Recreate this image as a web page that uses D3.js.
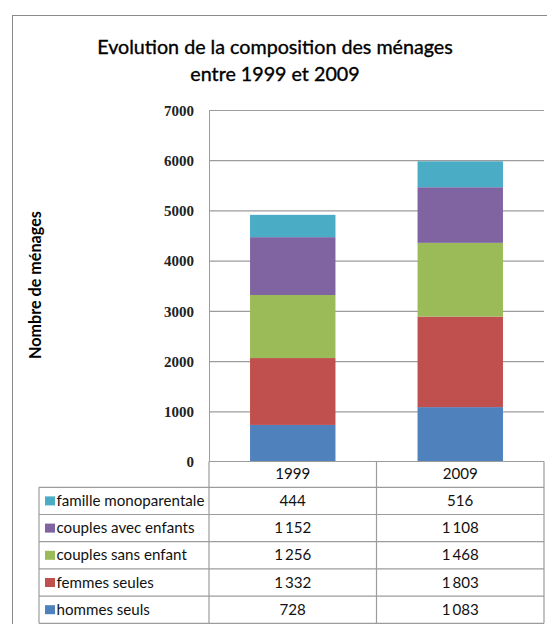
<!DOCTYPE html>
<html><head><meta charset="utf-8">
<script src="https://cdn.jsdelivr.net/npm/d3@7"></script>
<style>body{margin:0;background:#fff;overflow:hidden}</style>
</head><body><svg id="c" width="547" height="624"></svg>
<script>
// ---- data ----
const categories = ["1999", "2009"];
const seriesNames = ["hommes seuls", "femmes seules", "couples sans enfant", "couples avec enfants", "famille monoparentale"];
const hommesSeuls = [728, 1083];
const femmesSeules = [1332, 1803];
const couplesSansEnfant = [1256, 1468];
const couplesAvecEnfants = [1152, 1108];
const familleMonoparentale = [444, 516];
const seriesColors = ["#4F81BD", "#C0504D", "#9BBB59", "#8064A2", "#4BACC6"];
const yTicks = [0, 1000, 2000, 3000, 4000, 5000, 6000, 7000];
const titleLines = ["Evolution de la composition des ménages", "entre 1999 et 2009"];
const yTitle = "Nombre de ménages";

const seriesValues = [hommesSeuls, femmesSeules, couplesSansEnfant, couplesAvecEnfants, familleMonoparentale];
const rows = categories.map((c, i) => {
  const r = {cat: c};
  seriesNames.forEach((s, k) => r[s] = seriesValues[k][i]);
  return r;
});
const stacked = d3.stack().keys(seriesNames)(rows);
const color = d3.scaleOrdinal().domain(seriesNames).range(seriesColors);
const frFmt = d3.formatLocale({decimal: ",", thousands: "\u2009", grouping: [3], currency: ["", " €"]}).format(",d");

// ---- layout ----
const svg = d3.select("#c");
const plotL = 209, plotR = 544, plotT = 110, plotB = 461.5;
const tableL = 39, rowH = 27.2, headerB = 487.3;
const sans = "Lato, 'Open Sans', sans-serif";
const grid = "#9c9c9c";

function fit(sel, target) {
  const base = parseFloat(sel.attr("font-size"));
  const w = sel.node().getComputedTextLength();
  sel.attr("font-size", (base * target / w).toFixed(2));
  return base * target / w;
}

// outer frame
svg.append("rect").attr("x", 12.5).attr("y", 15.5).attr("width", 600).attr("height", 700)
  .attr("fill", "#fff").attr("stroke", "#8a8a8a").attr("stroke-width", 1);

// title
const t1 = svg.append("text").attr("x", 275).attr("y", 53.5).attr("text-anchor", "middle")
  .attr("font-family", sans).attr("font-size", 22).attr("fill", "#000").attr("stroke", "#000").attr("stroke-width", 0.35)
  .text(titleLines[0]);
fit(t1, 356);
const fs = t1.attr("font-size");
svg.append("text").attr("x", 275).attr("y", 80.5).attr("text-anchor", "middle")
  .attr("font-family", sans).attr("font-size", fs).attr("fill", "#000").attr("stroke", "#000").attr("stroke-width", 0.35)
  .text(titleLines[1]);

// scales
const y = d3.scaleLinear().domain([0, 7000]).range([plotB, plotT]);
const x = d3.scaleBand().domain(categories).range([plotL, plotR]).paddingInner(0.49).paddingOuter(0.245);
const xc = d3.scaleBand().domain(categories).range([plotL, plotR]).padding(0);

// gridlines
const g = svg.append("g").attr("transform", `translate(${plotL},0)`)
  .call(d3.axisLeft(y).tickValues(yTicks.filter(v => v > 0)).tickSize(-(plotR - plotL)).tickFormat(""));
g.select(".domain").remove();
g.selectAll("line").attr("stroke", grid).attr("stroke-width", 1.2);

// bars
svg.append("g").selectAll("g").data(stacked).join("g").attr("fill", d => color(d.key))
  .selectAll("rect").data(d => d).join("rect")
  .attr("x", d => x(d.data.cat)).attr("width", x.bandwidth())
  .attr("y", d => y(d[1])).attr("height", d => y(d[0]) - y(d[1]));

// y axis labels
const ya = svg.append("g").attr("transform", `translate(${plotL},0)`)
  .call(d3.axisLeft(y).tickValues(yTicks).tickSize(0).tickPadding(15).tickFormat(d3.format("d")));
ya.select(".domain").attr("stroke", grid);
ya.selectAll("text").attr("font-family", "'Liberation Serif', serif").attr("font-weight", "bold")
  .attr("font-size", 15).attr("fill", "#222").attr("dy", "0.35em");

// y title
const yt = svg.append("text").attr("transform", "translate(41,285) rotate(-90)").attr("text-anchor", "middle")
  .attr("font-family", sans).attr("font-weight", "bold").attr("font-size", 13).attr("fill", "#000").text(yTitle);
fit(yt, 148);

// data table
const tableRows = seriesNames.slice().reverse();
const tg = svg.append("g");
const line = (x1, y1, x2, y2) => tg.append("line").attr("x1", x1).attr("y1", y1).attr("x2", x2).attr("y2", y2)
  .attr("stroke", grid).attr("stroke-width", 1.2);
line(plotL, plotB, plotR, plotB);
line(tableL, headerB, plotR, headerB);
tableRows.forEach((s, i) => line(tableL, headerB + (i + 1) * rowH, plotR, headerB + (i + 1) * rowH));
const tableBottom = headerB + tableRows.length * rowH;
line(tableL, headerB, tableL, tableBottom);
categories.forEach(c => line(xc(c), plotB, xc(c), tableBottom));
line(plotR, plotB, plotR, tableBottom);

// measure table font size from longest legend label
const probe = svg.append("text").attr("font-family", sans).attr("font-size", 14.5).text("famille monoparentale");
const tfs = fit(probe, 148);
probe.remove();

// header
tg.selectAll("text.hdr").data(categories).join("text").attr("class", "hdr")
  .attr("x", c => xc(c) + xc.bandwidth() / 2).attr("y", (plotB + headerB) / 2 + 5)
  .attr("text-anchor", "middle").attr("font-family", sans).attr("font-size", tfs).attr("fill", "#111").text(c => c);

tableRows.forEach((s, i) => {
  const cy = headerB + i * rowH + rowH / 2;
  tg.append("rect").attr("x", 45).attr("y", cy - 4.5).attr("width", 10).attr("height", 9).attr("fill", color(s));
  tg.append("text").attr("x", 56.5).attr("y", cy + 5).attr("font-family", sans)
    .attr("font-size", tfs).attr("fill", "#111").text(s);
  const k = seriesNames.indexOf(s);
  categories.forEach((c, j) => {
    tg.append("text").attr("x", xc(c) + xc.bandwidth() / 2).attr("y", cy + 5).attr("text-anchor", "middle")
      .attr("font-family", sans).attr("font-size", tfs).attr("fill", "#111").text(frFmt(seriesValues[k][j]));
  });
});
</script>
</body></html>
